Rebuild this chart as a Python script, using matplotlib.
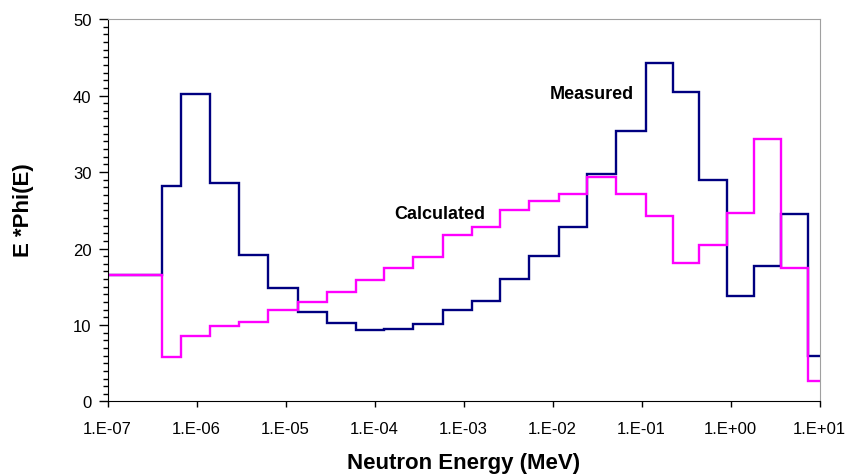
import numpy as np
import matplotlib.pyplot as plt
from matplotlib.ticker import FixedLocator, MultipleLocator

# bin edges (MeV)
edges = [1e-7, 4.1e-7, 6.7e-7, 1.42e-6, 3.03e-6, 6.4e-6, 1.37e-5, 2.9e-5,
         6.15e-5, 1.28e-4, 2.74e-4, 5.9e-4, 1.24e-3, 2.6e-3, 5.5e-3, 1.17e-2,
         2.46e-2, 5.17e-2, 1.11e-1, 2.24e-1, 4.46e-1, 0.906, 1.85, 3.66, 7.36, 10.0]

measured = [16.6, 28.2, 40.2, 28.5, 19.2, 14.9, 11.7, 10.3, 9.4, 9.5, 10.1, 12.0,
            13.2, 16.0, 19.0, 22.8, 29.7, 35.4, 44.2, 40.5, 29.0, 13.8, 17.7, 24.5, 5.9]

calculated = [16.6, 5.8, 8.5, 9.9, 10.4, 11.9, 13.0, 14.3, 15.9, 17.5, 18.9, 21.8,
              22.8, 25.0, 26.2, 27.1, 29.3, 27.1, 24.2, 18.1, 20.4, 24.7, 34.3, 17.4, 2.7]

xticks = [1e-7, 1e-6, 1e-5, 1e-4, 1e-3, 1e-2, 1e-1, 1e0, 1e1]
xticklabels = ['1.E-07', '1.E-06', '1.E-05', '1.E-04', '1.E-03',
               '1.E-02', '1.E-01', '1.E+00', '1.E+01']

plt.rcParams['font.family'] = ['Liberation Sans', 'DejaVu Sans']

fig = plt.figure(figsize=(8.48, 4.77), dpi=100)
ax = fig.add_axes([0.1268, 0.1562, 0.8396, 0.8018])

ax.stairs(measured, edges, baseline=None, color='#000080', linewidth=1.7)
ax.stairs(calculated, edges, baseline=None, color='#ff00ff', linewidth=1.7)

ax.set_xscale('log')
ax.set_xlim(1e-7, 1e1)
ax.set_ylim(0, 50)

ax.xaxis.set_major_locator(FixedLocator(xticks))
ax.xaxis.set_minor_locator(FixedLocator([]))
ax.set_xticklabels(xticklabels)
ax.yaxis.set_major_locator(MultipleLocator(10))
ax.yaxis.set_minor_locator(MultipleLocator(1))

ax.tick_params(axis='both', which='major', direction='out', width=1,
               labelsize=12, colors='black')
ax.tick_params(axis='x', which='major', length=4, pad=10)
ax.tick_params(axis='y', which='major', length=6.5, pad=5)
ax.tick_params(axis='y', which='minor', direction='out', length=3.5, width=1)

for side in ['top', 'right']:
    ax.spines[side].set_color('#a0a0a0')
for side in ['left', 'bottom']:
    ax.spines[side].set_color('black')

fig.text(463.5 / 848, 1 - 464 / 477, 'Neutron Energy (MeV)', fontsize=16,
         fontweight='bold', ha='center', va='center')
fig.text(23 / 848, 1 - 210 / 477, 'E *Phi(E)', fontsize=16, fontweight='bold',
         rotation=90, ha='center', va='center')

ax.text(8.2e-2, 40.3, 'Measured', fontsize=13, fontweight='bold',
        ha='right', va='center')
ax.text(1.75e-3, 24.6, 'Calculated', fontsize=13, fontweight='bold',
        ha='right', va='center')

fig.savefig('out.png', dpi=100)
